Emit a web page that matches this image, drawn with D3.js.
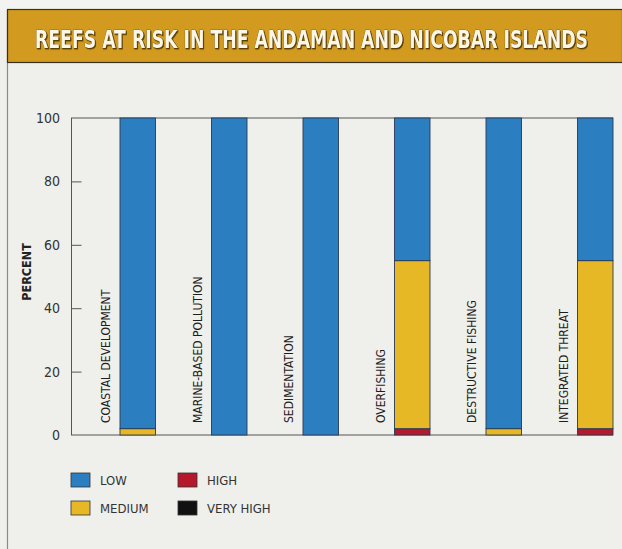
<!DOCTYPE html>
<html>
<head>
<meta charset="utf-8">
<script src="https://cdn.jsdelivr.net/npm/d3@7"></script>
<style>
  html, body { margin: 0; padding: 0; background: #f1f1ee; }
  svg { display: block; }
  .cond { font-family: "Liberation Sans Narrow", "Arial Narrow", "DejaVu Sans Condensed", sans-serif; }
</style>
</head>
<body>
<script>
// ---- data ----
const title = "REEFS AT RISK IN THE ANDAMAN AND NICOBAR ISLANDS";
const categories = ["COASTAL DEVELOPMENT", "MARINE-BASED POLLUTION", "SEDIMENTATION", "OVERFISHING", "DESTRUCTIVE FISHING", "INTEGRATED THREAT"];
const seriesNames = ["LOW", "MEDIUM", "HIGH", "VERY HIGH"];
const veryHigh = [0, 0, 0, 0, 0, 0];
const high     = [0, 0, 0, 2, 0, 2];
const medium   = [2, 0, 0, 53, 2, 53];
const low      = [98, 100, 100, 45, 98, 45];
const yTicks = [0, 20, 40, 60, 80, 100];
const yLabel = "PERCENT";

const colors = {"LOW": "#2b7fc0", "MEDIUM": "#e6b826", "HIGH": "#b5172b", "VERY HIGH": "#111111"};
const stackOrder = ["VERY HIGH", "HIGH", "MEDIUM", "LOW"]; // bottom to top
const valuesBy = {"LOW": low, "MEDIUM": medium, "HIGH": high, "VERY HIGH": veryHigh};

const W = 622, H = 549;
const svg = d3.select("body").append("svg").attr("width", W).attr("height", H);

// background
svg.append("rect").attr("x", 0).attr("y", 0).attr("width", W).attr("height", H).attr("fill", "#efefeb");
svg.append("rect").attr("x", 0).attr("y", 0).attr("width", W).attr("height", 10).attr("fill", "#f3f3f1");
// left frame line
svg.append("line").attr("x1", 7.5).attr("x2", 7.5).attr("y1", 10).attr("y2", H).attr("stroke", "#8a8a88").attr("stroke-width", 1.2);

// title bar
svg.append("rect").attr("x", 7.5).attr("y", 9.5).attr("width", W - 7).attr("height", 53)
  .attr("fill", "#d29b1f").attr("stroke", "#3a3020").attr("stroke-width", 1.2);
svg.append("text").attr("class", "cond")
  .attr("transform", "translate(35,47.5) scale(1,1.2)")
  .attr("textLength", 553).attr("lengthAdjust", "spacingAndGlyphs")
  .attr("font-size", 20).attr("font-weight", "bold")
  .attr("fill", "#fbf6e6").attr("stroke", "#5a4010").attr("stroke-width", 0.5)
  .attr("paint-order", "stroke")
  .style("filter", "drop-shadow(1px 1px 0.5px rgba(60,40,0,0.8))")
  .text(title);

// scales
const x = d3.scaleBand().domain(categories).range([64, 613]).paddingInner(0).paddingOuter(0);
const barOffset = 56, barW = 35.5;
const y = d3.scaleLinear().domain([0, 100]).range([435, 118]);

const plot = svg.append("g");

// top and bottom frame lines
[0, 100].forEach(v => {
  plot.append("line").attr("x1", 71).attr("x2", 613).attr("y1", y(v)).attr("y2", y(v))
    .attr("stroke", "#555").attr("stroke-width", 1);
});

// y axis
const yAxis = d3.axisRight(y).tickValues(yTicks).tickSize(10).tickFormat("");
const yg = plot.append("g").attr("transform", "translate(71.5,0)").call(yAxis);
yg.select(".domain").attr("stroke", "#555").attr("d", `M0,${y(0)}V${y(100)}`);
yg.selectAll(".tick line").attr("stroke", "#555");
yg.selectAll(".tick").filter(d => d === 0 || d === 100).select("line").remove();

// tick labels
plot.selectAll(".ylab").data(yTicks).join("text")
  .attr("class", "cond ylab")
  .attr("x", 60).attr("y", d => y(d)).attr("dy", "0.35em")
  .attr("text-anchor", "end").attr("font-size", 14).attr("fill", "#333")
  .text(d => d);

// y label
svg.append("text").attr("class", "cond")
  .attr("transform", "translate(31,272) rotate(-90)")
  .attr("text-anchor", "middle").attr("font-size", 12.5).attr("font-weight", "bold").attr("fill", "#222")
  .text(yLabel);

// stacks
const rows = categories.map((c, i) => {
  const r = {cat: c};
  seriesNames.forEach(s => r[s] = valuesBy[s][i]);
  return r;
});
const stack = d3.stack().keys(stackOrder)(rows);

plot.selectAll(".series").data(stack).join("g")
  .attr("fill", d => colors[d.key])
  .selectAll("rect").data(d => d.filter(p => p[1] - p[0] > 0)).join("rect")
  .attr("x", d => x(d.data.cat) + barOffset)
  .attr("width", barW)
  .attr("y", d => y(d[1]))
  .attr("height", d => y(d[0]) - y(d[1]))
  .attr("stroke", "#2c3a55").attr("stroke-width", 0.9);

// category labels
plot.selectAll(".clab").data(categories).join("text")
  .attr("class", "cond clab")
  .attr("transform", d => `translate(${x(d) + barOffset - 10},423) rotate(-90)`)
  .attr("font-size", 12).attr("fill", "#1e1e1e")
  .text(d => d);

// legend
const legendItems = [
  {name: "LOW", col: 0, row: 0},
  {name: "MEDIUM", col: 0, row: 1},
  {name: "HIGH", col: 1, row: 0},
  {name: "VERY HIGH", col: 1, row: 1}
];
const lg = svg.append("g").selectAll("g").data(legendItems).join("g")
  .attr("transform", d => `translate(${71 + d.col * 107},${473 + d.row * 28})`);
lg.append("rect").attr("width", 19).attr("height", 14)
  .attr("fill", d => colors[d.name]).attr("stroke", "#333").attr("stroke-width", 0.8);
lg.append("text").attr("class", "cond")
  .attr("x", 29).attr("y", 7.5).attr("dy", "0.35em")
  .attr("font-size", 13).attr("fill", "#333")
  .text(d => d.name);
</script>
</body>
</html>
